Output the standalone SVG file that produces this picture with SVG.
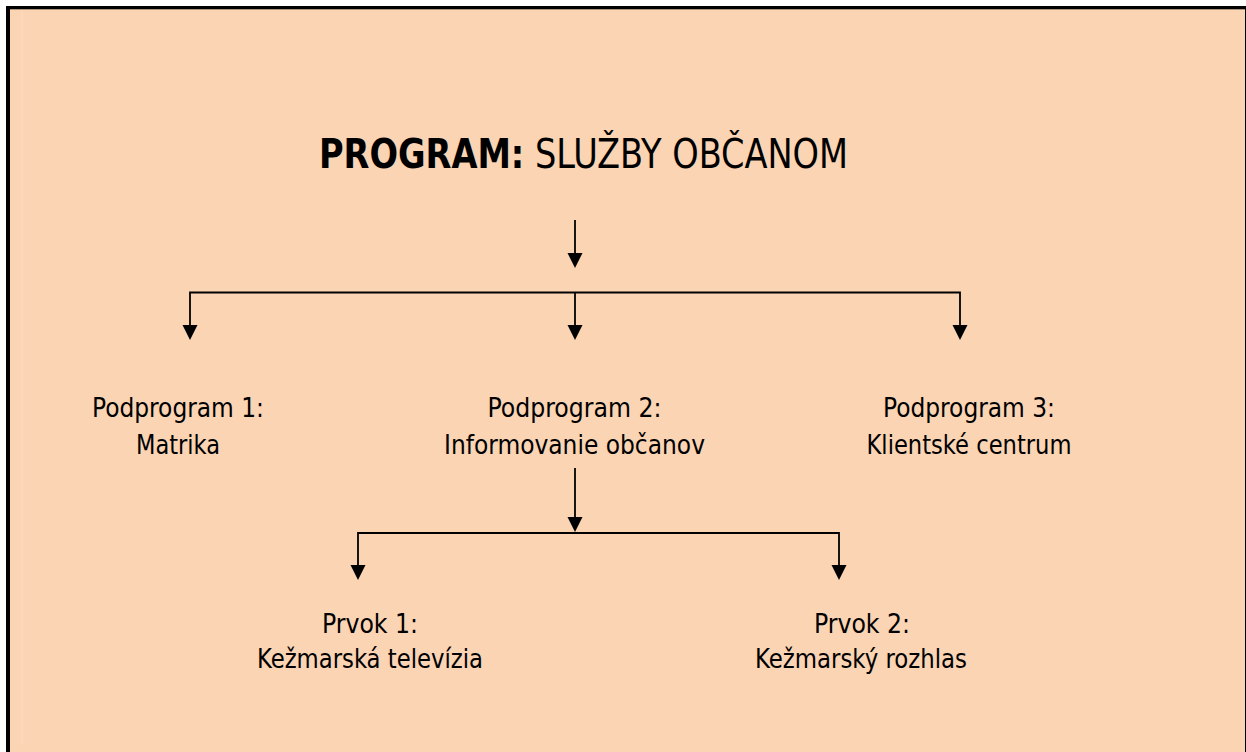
<svg xmlns="http://www.w3.org/2000/svg" width="1246" height="752" viewBox="0 0 1246 752">
  <style>
    .t { font-family: "DejaVu Sans Condensed", "DejaVu Sans", Tahoma, Verdana, sans-serif; font-size: 26px; fill: #000; text-anchor: middle; }
    .title { font-family: "DejaVu Sans Condensed", "DejaVu Sans", Tahoma, Verdana, sans-serif; font-size: 40px; fill: #000; }
    .ln { stroke: #000; stroke-width: 1.8; fill: none; }
    .ah { fill: #000; }
  </style>
  <defs>
    <polygon id="head" class="ah" points="-7.5,0 7.5,0 0,15"/>
  </defs>
  <rect x="0" y="0" width="1246" height="752" fill="#ffffff"/>
  <rect x="6" y="6" width="1240" height="746" fill="#FBD4B4"/>
  <line x1="22" y1="10" x2="22" y2="745" stroke="#FCDCC2" stroke-width="1"/>
  <rect x="6" y="6" width="1240" height="3.3" fill="#000"/>
  <rect x="6" y="6" width="4" height="746" fill="#000"/>
  <rect x="1245" y="6" width="1" height="746" fill="#000"/>

  <g id="title">
    <text class="title" x="319" y="168" textLength="529" lengthAdjust="spacingAndGlyphs"><tspan font-weight="bold">PROGRAM:</tspan> SLUŽBY OBČANOM</text>
  </g>

  <g id="connectors">
    <line class="ln" x1="575" y1="220" x2="575" y2="254"/>
    <use href="#head" x="575" y="253"/>
    <polyline class="ln" points="190,326 190,292.5 960,292.5 960,326"/>
    <line class="ln" x1="575" y1="292.5" x2="575" y2="326"/>
    <use href="#head" x="190" y="325"/>
    <use href="#head" x="575" y="325"/>
    <use href="#head" x="960" y="325"/>
    <line class="ln" x1="575" y1="468" x2="575" y2="518"/>
    <use href="#head" x="575" y="517"/>
    <polyline class="ln" points="358,566 358,533 839,533 839,566"/>
    <use href="#head" x="358" y="565"/>
    <use href="#head" x="839" y="565"/>
  </g>

  <g id="podprogram1">
    <text class="t" x="178" y="417" textLength="172" lengthAdjust="spacingAndGlyphs">Podprogram 1:</text>
    <text class="t" x="178" y="454" textLength="84" lengthAdjust="spacingAndGlyphs">Matrika</text>
  </g>
  <g id="podprogram2">
    <text class="t" x="574.5" y="417" textLength="174" lengthAdjust="spacingAndGlyphs">Podprogram 2:</text>
    <text class="t" x="574.5" y="454" textLength="261" lengthAdjust="spacingAndGlyphs">Informovanie občanov</text>
  </g>
  <g id="podprogram3">
    <text class="t" x="969" y="417" textLength="172" lengthAdjust="spacingAndGlyphs">Podprogram 3:</text>
    <text class="t" x="969" y="454" textLength="205" lengthAdjust="spacingAndGlyphs">Klientské centrum</text>
  </g>
  <g id="prvok1">
    <text class="t" x="370" y="633" textLength="96" lengthAdjust="spacingAndGlyphs">Prvok 1:</text>
    <text class="t" x="370" y="668" textLength="226" lengthAdjust="spacingAndGlyphs">Kežmarská televízia</text>
  </g>
  <g id="prvok2">
    <text class="t" x="862" y="633" textLength="96" lengthAdjust="spacingAndGlyphs">Prvok 2:</text>
    <text class="t" x="861" y="668" textLength="212" lengthAdjust="spacingAndGlyphs">Kežmarský rozhlas</text>
  </g>
</svg>
